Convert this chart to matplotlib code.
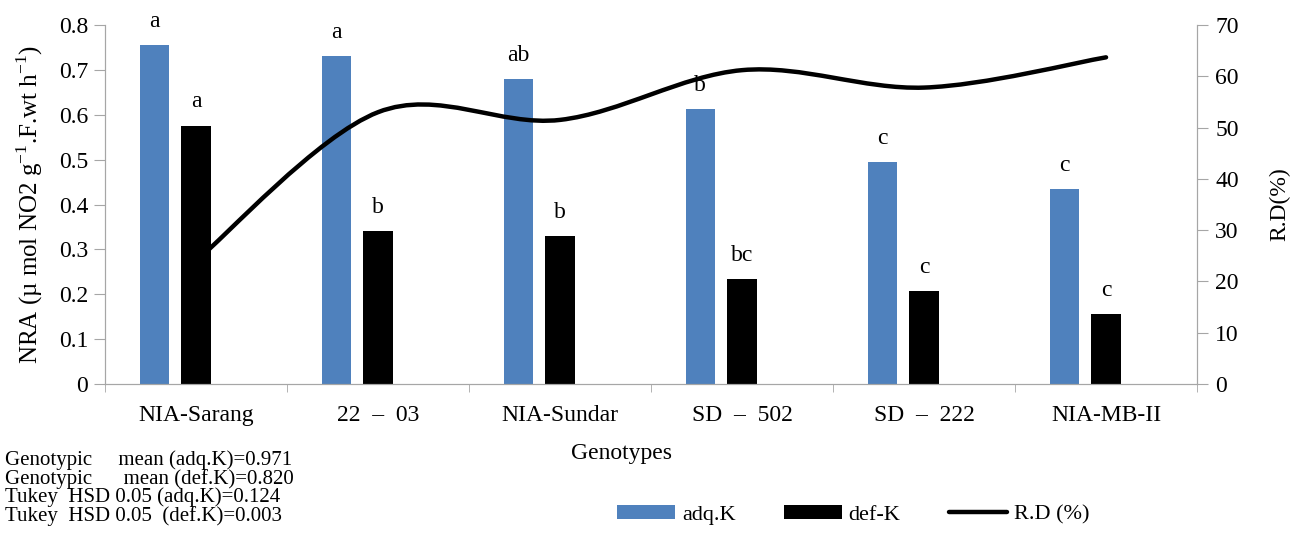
import numpy as np
import matplotlib
matplotlib.use('Agg')
import matplotlib.pyplot as plt
from matplotlib.path import Path
from matplotlib.patches import PathPatch
from matplotlib.lines import Line2D

plt.rcParams['font.family'] = ['Liberation Serif', 'DejaVu Serif']
plt.rcParams['mathtext.fontset'] = 'custom'
plt.rcParams['mathtext.rm'] = 'Liberation Serif'

# Data
genotypes = ['NIA-Sarang', '22  \u2013  03', 'NIA-Sundar', 'SD  \u2013  502', 'SD  \u2013  222', 'NIA-MB-II']
adq_k = [0.756, 0.730, 0.679, 0.612, 0.494, 0.434]
def_k = [0.576, 0.341, 0.330, 0.235, 0.207, 0.157]
rd_pct = [24.0, 53.0, 51.5, 61.2, 57.8, 63.7]
adq_letters = ['a', 'a', 'ab', 'b', 'c', 'c']
def_letters = ['a', 'b', 'b', 'bc', 'c', 'c']
notes = ['Genotypic     mean (adq.K)=0.971',
         'Genotypic      mean (def.K)=0.820',
         'Tukey  HSD 0.05 (adq.K)=0.124',
         'Tukey  HSD 0.05  (def.K)=0.003']

blue = '#4F81BD'
grey = '#A6A6A6'

fig = plt.figure(figsize=(12.93, 5.38), dpi=100)
ax = fig.add_axes([0.0812, 0.2862, 0.8446, 0.6673])
ax2 = ax.twinx()

x = np.arange(len(genotypes))
w = 0.16
b1 = ax.bar(x - 0.23, adq_k, w, color=blue, label='adq.K', zorder=2)
b2 = ax.bar(x, def_k, w, color='black', label='def-K', zorder=2)

# significance letters above the bars
for xi, v, s in zip(x - 0.23, adq_k, adq_letters):
    ax.annotate(s, (xi, v), xytext=(0, 13), textcoords='offset points',
                ha='center', va='baseline', fontsize=17)
for xi, v, s in zip(x, def_k, def_letters):
    ax.annotate(s, (xi, v), xytext=(0, 13), textcoords='offset points',
                ha='center', va='baseline', fontsize=17)

# Smoothed line (Excel style bezier through the points)
pts = np.column_stack([x, rd_pct]).astype(float)
ext = np.vstack([pts[0], pts, pts[-1]])
verts = [tuple(pts[0])]
codes = [Path.MOVETO]
for i in range(len(pts) - 1):
    p0, p1, p2, p3 = ext[i], ext[i + 1], ext[i + 2], ext[i + 3]
    c1 = p1 + (p2 - p0) / 6
    c2 = p2 - (p3 - p1) / 6
    verts += [tuple(c1), tuple(c2), tuple(p2)]
    codes += [Path.CURVE4] * 3
ax2.add_patch(PathPatch(Path(verts, codes), fill=False, lw=3.2,
                        edgecolor='black', capstyle='round', zorder=3))

ax.set_xlim(-0.5, len(genotypes) - 0.5)
ax.set_ylim(0, 0.8)
ax.set_yticks(np.arange(0, 0.81, 0.1))
ax.set_yticklabels(['0'] + ['%.1f' % v for v in np.arange(0.1, 0.81, 0.1)])
ax2.set_ylim(0, 70)
ax2.set_yticks(np.arange(0, 71, 10))

ax.set_xticks(x)
ax.set_xticklabels(genotypes)
ax.set_xticks(np.arange(-0.5, len(genotypes), 1), minor=True)
ax.tick_params(axis='x', which='major', length=0, pad=15, labelsize=17)
ax.tick_params(axis='x', which='minor', length=6, color=grey)
ax.tick_params(axis='y', length=8, color=grey, labelsize=17, pad=4)
ax2.tick_params(axis='y', length=8, color=grey, labelsize=17, pad=5)

for a in (ax, ax2):
    a.spines['top'].set_visible(False)
    for s in ('left', 'right', 'bottom'):
        a.spines[s].set_color(grey)

ax.set_ylabel('NRA (\u00b5 mol NO2 g$^{\\mathrm{-1}}$.F.wt h$^{\\mathrm{-1}}$)', fontsize=18, labelpad=10)
ax2.set_ylabel('R.D(%)', fontsize=17, labelpad=22)
ax.set_xlabel('Genotypes', fontsize=17)
ax.xaxis.set_label_coords(0.473, -0.165)

fig.text(0.004, 0.163, '\n'.join(notes), fontsize=15, va='top', ha='left',
         linespacing=0.92)

handles = [b1, b2, Line2D([], [], color='black', lw=3.2, solid_capstyle='round')]
fig.legend(handles, ['adq.K', 'def-K', 'R.D (%)'], loc='center',
           bbox_to_anchor=(0.66, 0.043), ncol=3, frameon=False, fontsize=16,
           handlelength=2.6, handleheight=0.6, columnspacing=2.2, handletextpad=0.3)

fig.savefig('out.png', dpi=100)
